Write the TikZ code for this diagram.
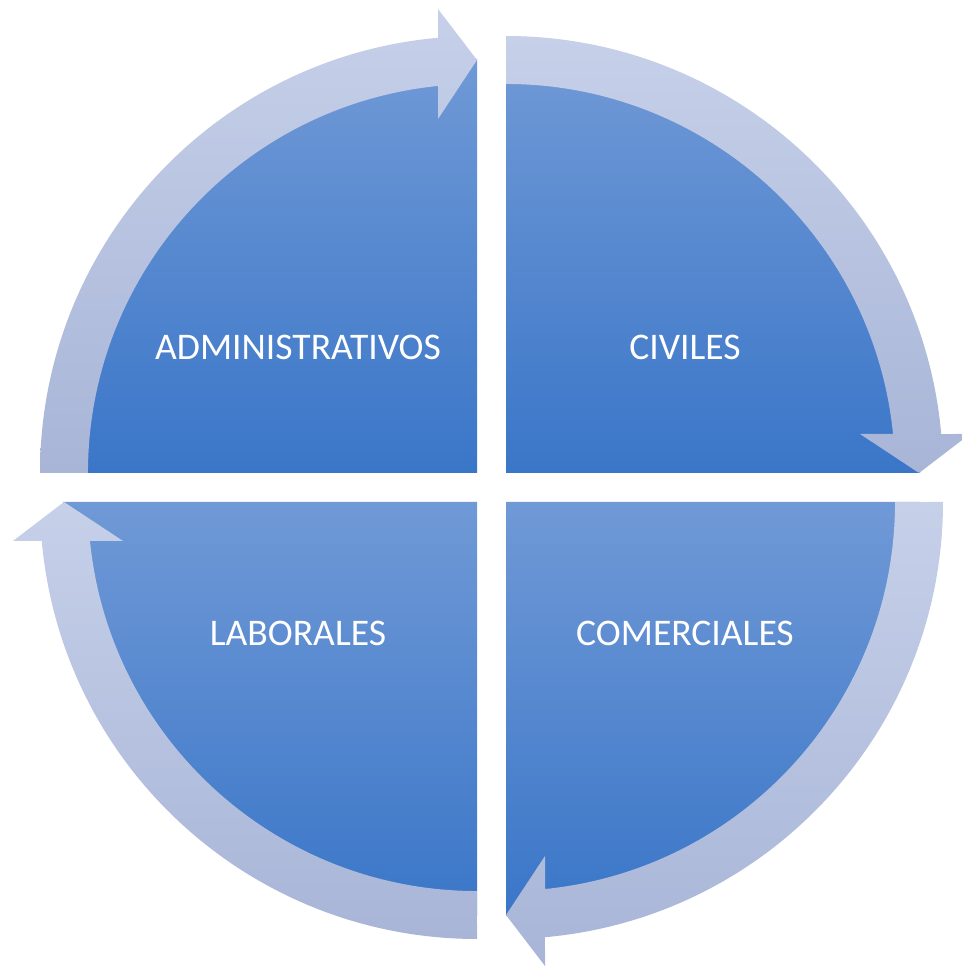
\documentclass[tikz,border=0pt]{standalone}
\usepackage{fontspec}
\setmainfont{Carlito}
\definecolor{pietop}{HTML}{7099D6}
\definecolor{piebot}{HTML}{3A76C8}
\definecolor{bandtop}{HTML}{C6D0E9}
\definecolor{bandbot}{HTML}{A8B5D7}
\tikzset{
  pie/.style={top color=pietop, bottom color=piebot, draw=none},
  band/.style={top color=bandtop, bottom color=bandbot, draw=none},
  lbl/.style={text=white, font=\fontsize{21.4}{25}\selectfont, inner sep=0pt}
}
\begin{document}
\begin{tikzpicture}[x=0.02cm,y=0.02cm]
\useasboundingbox (0,0) rectangle (961,967);
% pies
\shade[pie] (477,494) -- ++(180:414) arc[start angle=180,end angle=90,radius=414] -- cycle;
\shade[pie] (506,494) -- ++(90:414) arc[start angle=90,end angle=0,radius=414] -- cycle;
\shade[pie] (506,465) -- ++(0:414) arc[start angle=0,end angle=-90,radius=414] -- cycle;
\shade[pie] (477,465) -- ++(-90:414) arc[start angle=-90,end angle=-180,radius=414] -- cycle;
% bands with arrowheads
\begin{scope}[shift={(477,494)}]
\shade[band] (-437,0) arc[start angle=180,end angle=95.12,radius=437] -- (-39,464) -- (0,413) -- (-39,354) -- (-39,387.04) arc[start angle=95.75,end angle=180,radius=389] -- cycle;
\end{scope}
\begin{scope}[shift={(506,494)}]
\shade[band] (0,437) arc[start angle=90,end angle=5.12,radius=437] -- (464,39) -- (413,0) -- (354,39) -- (387.04,39) arc[start angle=5.75,end angle=90,radius=389] -- cycle;
\end{scope}
\begin{scope}[shift={(506,465)}]
\shade[band] (437,0) arc[start angle=0,end angle=-84.88,radius=437] -- (39,-464) -- (0,-413) -- (39,-354) -- (39,-387.04) arc[start angle=-84.25,end angle=0,radius=389] -- cycle;
\end{scope}
\begin{scope}[shift={(477,465)}]
\shade[band] (0,-437) arc[start angle=-90,end angle=-174.88,radius=437] -- (-464,-39) -- (-413,0) -- (-354,-39) -- (-387.04,-39) arc[start angle=-174.25,end angle=-90,radius=389] -- cycle;
\end{scope}
% labels
\node[lbl] (adm) at (298,620) {ADMINISTRATIVOS};
\node[lbl] (civ) at (685,620) {CIVILES};
\node[lbl] (com) at (685,334) {COMERCIALES};
\node[lbl] (lab) at (298,334) {LABORALES};
\end{tikzpicture}
\end{document}
